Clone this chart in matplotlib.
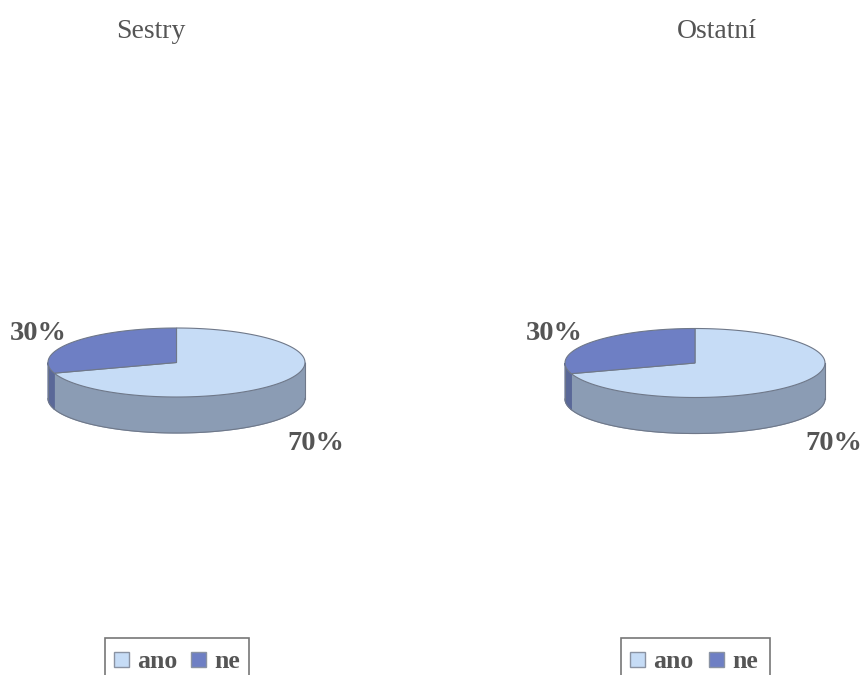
import numpy as np
import matplotlib.pyplot as plt
from matplotlib.patches import Polygon, Rectangle

plt.rcParams["font.family"] = ["Liberation Serif", "DejaVu Serif"]

groups = ["Sestry", "Ostatní"]
categories = ["ano", "ne"]
shares = [[70, 30], [70, 30]]

face_colors = ["#c6dcf6", "#6e7fc4"]
side_colors = ["#8b9cb4", "#5a6898"]
edge_color = "#6f7889"
text_color = "#555555"

# centre x, centre y, x radius, y radius, depth (all in figure pixels)
pies = [(176.5, 362.5, 128.5, 34.5, 36), (695, 363, 130, 34.5, 36)]
title_pos = [(151, 31), (717, 31)]
label_pos = [[(316, 443), (38, 333)], [(834, 443), (554, 333)]]
# left, top, width, offset of the second legend entry
legend_boxes = [(105, 638, 144, 77), (621, 638, 149, 79)]


def ellipse_points(pie, start, stop, drop=0):
    # angles are clockwise from twelve o'clock
    cx, cy, rx, ry, _ = pie
    angles = np.radians(np.linspace(start, stop, 120))
    return np.column_stack([cx + rx * np.sin(angles), cy + drop - ry * np.cos(angles)])


def draw_side(ax, pie, start, stop, color):
    # only the part of the rim facing the viewer is visible
    start, stop = max(start, 90), min(stop, 270)
    if stop <= start:
        return
    top = ellipse_points(pie, start, stop)
    bottom = ellipse_points(pie, start, stop, pie[4])
    ax.add_patch(Polygon(np.vstack([top, bottom[::-1]]), closed=True, fc=color, ec=color, lw=0.8, zorder=2))
    ax.plot(bottom[:, 0], bottom[:, 1], color=edge_color, lw=0.8, zorder=3)


def draw_pie(ax, pie, values):
    cx, cy = pie[0], pie[1]
    edges = np.cumsum([0] + values) / sum(values) * 360
    for i in range(len(values)):
        draw_side(ax, pie, edges[i], edges[i + 1], side_colors[i])
    for x in (cx - pie[2], cx + pie[2]):
        ax.plot([x, x], [cy, cy + pie[4]], color=edge_color, lw=0.8, zorder=3)
    for i in range(len(values)):
        arc = ellipse_points(pie, edges[i], edges[i + 1])
        outline = np.vstack([[cx, cy], arc])
        ax.add_patch(Polygon(outline, closed=True, fc=face_colors[i], ec=edge_color, lw=0.8, zorder=4))


def draw_legend(ax, box):
    x, y, width, gap = box
    ax.add_patch(Rectangle((x, y), width, 60, fc="white", ec="#777777", lw=1.2, zorder=2))
    for i, name in enumerate(categories):
        ax.add_patch(Rectangle((x + 9 + i * gap, y + 14), 15, 15, fc=face_colors[i], ec="#8a93a3", lw=1, zorder=3))
        ax.text(x + 32 + i * gap, y + 30, name, fontsize=18.5, fontweight="bold", color=text_color, va="baseline")


fig = plt.figure(figsize=(8.64, 6.75), dpi=100)
ax = fig.add_axes([0, 0, 1, 1])
ax.set_xlim(0, 864)
ax.set_ylim(675, 0)
ax.axis("off")

for n, group in enumerate(groups):
    draw_pie(ax, pies[n], shares[n])
    ax.text(*title_pos[n], group, fontsize=20, color=text_color, ha="center", va="center")
    for value, pos in zip(shares[n], label_pos[n]):
        ax.text(*pos, f"{value}%", fontsize=20.5, fontweight="bold", color=text_color, ha="center", va="center")
    draw_legend(ax, legend_boxes[n])

fig.savefig("out.png", dpi=100)
